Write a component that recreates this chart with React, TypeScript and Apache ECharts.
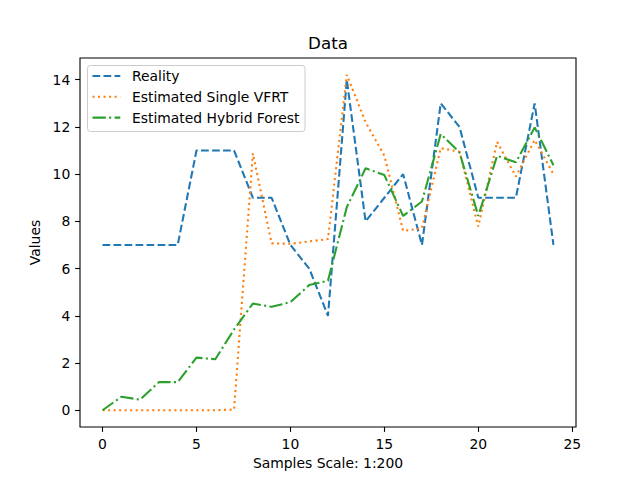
import React, { useEffect, useRef } from "react";
import * as echarts from "echarts";

const samples = [0, 1, 2, 3, 4, 5, 6, 7, 8, 9, 10, 11, 12, 13, 14, 15, 16, 17, 18, 19, 20, 21, 22, 23, 24];
const reality = [7, 7, 7, 7, 7, 11, 11, 11, 9, 9, 7, 6, 4, 14, 8, 9, 10, 7, 13, 12, 9, 9, 9, 13, 7];
const singleVfrt = [0, 0, 0, 0, 0, 0, 0, 0.03, 10.88, 7.07, 7.05, 7.15, 7.25, 14.21, 12.2, 10.78, 7.6, 7.7, 11.1, 10.95, 7.78, 11.37, 9.9, 11.45, 10.0];
const hybridForest = [0, 0.57, 0.45, 1.19, 1.19, 2.23, 2.16, 3.42, 4.52, 4.38, 4.58, 5.3, 5.49, 8.6, 10.25, 9.96, 8.23, 8.84, 11.7, 10.92, 8.23, 10.78, 10.5, 11.98, 10.38];
const xTicks = [0, 5, 10, 15, 20, 25];
const yTicks = [0, 2, 4, 6, 8, 10, 12, 14];
const seriesNames = ["Reality", "Estimated Single VFRT", "Estimated Hybrid Forest"];
const seriesColors = ["#1f77b4", "#ff7f0e", "#2ca02c"];
const seriesDashes = [
  [7.7, 3.3],
  [2.08, 3.44],
  [13.3, 3.33, 2.08, 3.33],
];

const FONT = "DejaVu Sans";

export default function App() {
  const ref = useRef<HTMLDivElement>(null);
  useEffect(() => {
    if (!ref.current) return;
    const chart = echarts.init(ref.current, null, { renderer: "svg" });
    const pairs = (ys: number[]) => samples.map((x, i) => [x, ys[i]]);
    const seriesData = [reality, singleVfrt, hybridForest];
    const axisCommon = {
      axisLine: { show: false, onZero: false },
      splitLine: { show: false },
      axisTick: { show: true, inside: false, length: 4.9, lineStyle: { color: "#000", width: 1.1 } },
      axisLabel: { color: "#000", fontSize: 13.9, fontFamily: FONT, margin: 9.7 },
      nameTextStyle: { color: "#000", fontSize: 13.9, fontFamily: FONT },
    };
    const rowY = [76, 96.8, 117.6];
    const legendChildren: any[] = [
      {
        type: "rect",
        shape: { x: 87.5, y: 65.5, width: 217.5, height: 66, r: 3 },
        style: { fill: "rgba(255,255,255,0.8)", stroke: "#cccccc", lineWidth: 1 },
      },
    ];
    seriesNames.forEach((name, i) => {
      legendChildren.push({
        type: "line",
        shape: { x1: 92.5, y1: rowY[i], x2: 120.3, y2: rowY[i] },
        style: { stroke: seriesColors[i], lineWidth: 2.08, lineDash: seriesDashes[i] },
      });
      legendChildren.push({
        type: "text",
        x: 132,
        y: rowY[i],
        style: {
          text: name,
          fontFamily: FONT,
          fontSize: 13.9,
          fill: "#000",
          verticalAlign: "middle",
          align: "left",
        },
      });
    });
    chart.setOption({
      animation: false,
      backgroundColor: "#fff",
      title: {
        text: "Data",
        left: 328,
        textAlign: "center",
        top: 34,
        padding: 0,
        textStyle: { fontFamily: FONT, fontSize: 16.7, fontWeight: "normal", color: "#000" },
      },
      grid: {
        left: 80,
        right: 64,
        top: 58,
        bottom: 53,
        show: true,
        borderColor: "#000",
        borderWidth: 1.1,
        backgroundColor: "#fff",
        containLabel: false,
      },
      xAxis: {
        type: "value",
        min: -1.2,
        max: 25.2,
        name: "Samples Scale: 1:200",
        nameLocation: "middle",
        nameGap: 28,
        ...axisCommon,
        axisTick: { ...axisCommon.axisTick, customValues: xTicks },
        axisLabel: { ...axisCommon.axisLabel, customValues: xTicks },
      },
      yAxis: {
        type: "value",
        min: -0.71,
        max: 14.92,
        name: "Values",
        nameLocation: "middle",
        nameGap: 37,
        ...axisCommon,
        axisTick: { ...axisCommon.axisTick, customValues: yTicks },
        axisLabel: { ...axisCommon.axisLabel, customValues: yTicks },
      },
      series: seriesNames.map((name, i) => ({
        name,
        type: "line",
        data: pairs(seriesData[i]),
        symbol: "none",
        showSymbol: false,
        color: seriesColors[i],
        lineStyle: { color: seriesColors[i], width: 2.08, type: seriesDashes[i] },
        z: 2 + i,
      })),
      graphic: [{ type: "group", z: 100, children: legendChildren }],
    });
    return () => chart.dispose();
  }, []);
  return (
    <div
      ref={ref}
      style={{ position: "fixed", left: 0, top: 0, width: 640, height: 480 }}
    />
  );
}
